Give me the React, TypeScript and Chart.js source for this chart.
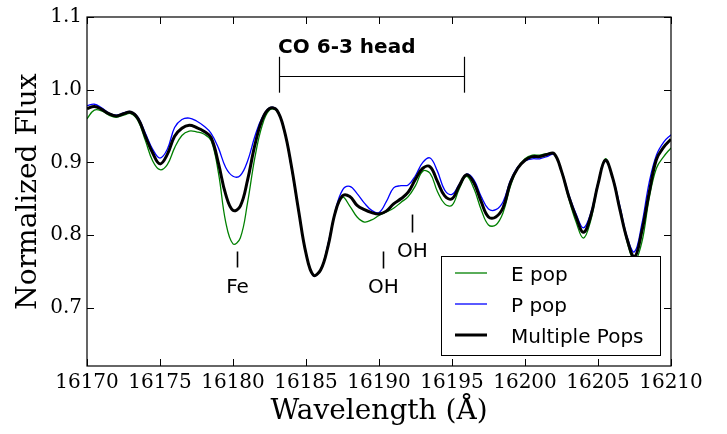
import React, { useEffect, useRef } from "react";
import { Chart, registerables } from "chart.js";

Chart.register(...registerables);

// Wavelength grid (Å)
const WAVELENGTH: number[] = [
  16170.0, 16170.5, 16171.0, 16171.5, 16172.0, 16172.5, 16173.0, 16173.5, 16174.0, 16174.5,
  16175.0, 16175.5, 16176.0, 16176.5, 16177.0, 16177.5, 16178.0, 16178.5, 16179.0, 16179.5,
  16180.0, 16180.5, 16181.0, 16181.5, 16182.0, 16182.5, 16183.0, 16183.5, 16184.0, 16184.5,
  16185.0, 16185.5, 16186.0, 16186.5, 16187.0, 16187.5, 16188.0, 16188.5, 16189.0, 16189.5,
  16190.0, 16190.5, 16191.0, 16191.5, 16192.0, 16192.5, 16193.0, 16193.5, 16194.0, 16194.5,
  16195.0, 16195.5, 16196.0, 16196.5, 16197.0, 16197.5, 16198.0, 16198.5, 16199.0, 16199.5,
  16200.0, 16200.5, 16201.0, 16201.5, 16202.0, 16202.5, 16203.0, 16203.5, 16204.0, 16204.5,
  16205.0, 16205.5, 16206.0, 16206.5, 16207.0, 16207.5, 16208.0, 16208.5, 16209.0, 16209.5,
  16210.0,
];

const E_POP: number[] = [
  0.960, 0.972, 0.971, 0.965, 0.962, 0.965, 0.967, 0.957, 0.930, 0.902,
  0.890, 0.897, 0.920, 0.937, 0.943, 0.942, 0.939, 0.930, 0.886, 0.818,
  0.788, 0.796, 0.845, 0.907, 0.951, 0.972, 0.971, 0.945, 0.893, 0.832,
  0.776, 0.745, 0.752, 0.786, 0.830, 0.852, 0.840, 0.825, 0.818, 0.821,
  0.827, 0.832, 0.837, 0.845, 0.853, 0.868, 0.888, 0.885, 0.860, 0.843,
  0.841, 0.864, 0.881, 0.864, 0.835, 0.814, 0.814, 0.831, 0.867, 0.892,
  0.905, 0.910, 0.910, 0.912, 0.911, 0.887, 0.850, 0.818, 0.796, 0.820,
  0.870, 0.905, 0.878, 0.837, 0.790, 0.765, 0.790, 0.850, 0.892, 0.908,
  0.920,
];

const P_POP: number[] = [
  0.978, 0.980, 0.975, 0.968, 0.965, 0.968, 0.970, 0.962, 0.940, 0.918,
  0.906, 0.918, 0.948, 0.959, 0.961, 0.957, 0.950, 0.940, 0.920, 0.893,
  0.881, 0.882, 0.902, 0.936, 0.962, 0.975, 0.973, 0.946, 0.893, 0.832,
  0.775, 0.744, 0.752, 0.787, 0.833, 0.862, 0.867, 0.857, 0.844, 0.834,
  0.831, 0.846, 0.865, 0.868, 0.869, 0.882, 0.900, 0.906, 0.888, 0.862,
  0.856, 0.870, 0.884, 0.876, 0.853, 0.836, 0.835, 0.846, 0.875, 0.894,
  0.902, 0.905, 0.905, 0.908, 0.911, 0.889, 0.856, 0.829, 0.810, 0.830,
  0.872, 0.902, 0.880, 0.840, 0.797, 0.777, 0.815, 0.872, 0.910, 0.928,
  0.938,
];

const MULTI_POPS: number[] = [
  0.974, 0.977, 0.973, 0.967, 0.964, 0.967, 0.969, 0.960, 0.936, 0.913,
  0.898, 0.911, 0.936, 0.947, 0.951, 0.948, 0.943, 0.934, 0.899, 0.856,
  0.834, 0.840, 0.876, 0.924, 0.959, 0.974, 0.972, 0.945, 0.895, 0.833,
  0.775, 0.745, 0.752, 0.784, 0.831, 0.854, 0.853, 0.841, 0.835, 0.831,
  0.829, 0.833, 0.843, 0.850, 0.859, 0.877, 0.892, 0.894, 0.874, 0.854,
  0.850, 0.868, 0.883, 0.872, 0.846, 0.825, 0.825, 0.838, 0.872, 0.892,
  0.903, 0.908, 0.908, 0.911, 0.912, 0.888, 0.853, 0.825, 0.804, 0.826,
  0.870, 0.903, 0.879, 0.835, 0.794, 0.770, 0.805, 0.858, 0.904, 0.921,
  0.932,
];

const SERIES_LABELS = ["E pop", "P pop", "Multiple Pops"];
const SERIES_COLORS = ["#008000", "#0000ff", "#000000"];
const SERIES_WIDTHS = [1.3, 1.3, 3];

const X_TICKS: number[] = [16170, 16175, 16180, 16185, 16190, 16195, 16200, 16205, 16210];
const Y_TICKS: number[] = [0.7, 0.8, 0.9, 1.0, 1.1];
const X_MIN = 16170;
const X_MAX = 16210;
const Y_MIN = 0.62;
const Y_MAX = 1.1;

const X_TITLE = "Wavelength (Å)";
const Y_TITLE = "Normalized Flux";

// Line-identification marks: [label, wavelength, tickTop, tickBottom, textBaseline]
const LINE_MARKS: [string, number, number, number, number][] = [
  ["Fe", 16180.28, 0.7775, 0.7555, 0.7198],
  ["OH", 16190.29, 0.7775, 0.7541, 0.7198],
  ["OH", 16192.28, 0.8283, 0.8036, 0.7706],
];

// CO band head bracket
const CO_LABEL = "CO 6-3 head";
const CO_START = 16183.16;
const CO_END = 16195.84;
const CO_BAR_Y = 1.0192;
const CO_TICK_TOP = 1.0453;
const CO_TICK_BOTTOM = 0.9959;
const CO_TEXT_X = 16183.09;
const CO_TEXT_Y = 1.0508;

const SERIF = '"DejaVu Serif", serif';
const SANS = '"DejaVu Sans", sans-serif';

const overlayPlugin = {
  id: "overlay",
  afterDatasetsDraw(chart: any) {
    const { ctx, chartArea, scales } = chart;
    const { left, right, top, bottom } = chartArea;
    const xs = scales.x;
    const ys = scales.y;
    ctx.save();
    ctx.strokeStyle = "#000";
    ctx.fillStyle = "#000";

    const seg = (x1: number, y1: number, x2: number, y2: number, w: number) => {
      ctx.lineWidth = w;
      ctx.beginPath();
      ctx.moveTo(x1, y1);
      ctx.lineTo(x2, y2);
      ctx.stroke();
    };

    // inward ticks on all four sides
    X_TICKS.forEach((v) => {
      const px = Math.round(xs.getPixelForValue(v)) + 0.5;
      seg(px, bottom, px, bottom - 7, 1);
      seg(px, top, px, top + 7, 1);
    });
    Y_TICKS.forEach((v) => {
      const py = Math.round(ys.getPixelForValue(v)) + 0.5;
      seg(left, py, left + 7, py, 1);
      seg(right, py, right - 7, py, 1);
    });

    // frame
    ctx.lineWidth = 1.2;
    ctx.strokeRect(left, top, right - left, bottom - top);

    // line marks
    ctx.font = `20px ${SANS}`;
    ctx.textAlign = "center";
    ctx.textBaseline = "alphabetic";
    LINE_MARKS.forEach(([label, wl, t1, t2, tb]) => {
      const px = Math.round(xs.getPixelForValue(wl)) + 0.5;
      seg(px, ys.getPixelForValue(t1), px, ys.getPixelForValue(t2), 1.6);
      ctx.fillText(label, px, ys.getPixelForValue(tb));
    });

    // CO bracket
    const cx1 = Math.round(xs.getPixelForValue(CO_START)) + 0.5;
    const cx2 = Math.round(xs.getPixelForValue(CO_END)) + 0.5;
    const cy = Math.round(ys.getPixelForValue(CO_BAR_Y)) + 0.5;
    seg(cx1, cy, cx2, cy, 1.2);
    seg(cx1, ys.getPixelForValue(CO_TICK_TOP), cx1, ys.getPixelForValue(CO_TICK_BOTTOM), 1.2);
    seg(cx2, ys.getPixelForValue(CO_TICK_TOP), cx2, ys.getPixelForValue(CO_TICK_BOTTOM), 1.2);
    ctx.font = `bold 20px ${SANS}`;
    ctx.textAlign = "left";
    ctx.fillText(CO_LABEL, xs.getPixelForValue(CO_TEXT_X), ys.getPixelForValue(CO_TEXT_Y));

    // legend (matplotlib style box, lower right)
    const lx = 441.5, ly = 256.5, lw = 219, lh = 99;
    ctx.fillStyle = "#fff";
    ctx.fillRect(lx, ly, lw, lh);
    ctx.lineWidth = 1;
    ctx.strokeStyle = "#000";
    ctx.strokeRect(lx, ly, lw, lh);
    ctx.font = `20px ${SANS}`;
    ctx.textAlign = "left";
    ctx.textBaseline = "alphabetic";
    SERIES_LABELS.forEach((lab, i) => {
      const yy = 273 + i * 31;
      ctx.strokeStyle = SERIES_COLORS[i];
      seg(455, yy, 487, yy, SERIES_WIDTHS[i]);
      ctx.fillStyle = "#000";
      ctx.fillText(lab, 511, yy + 7.5);
    });

    ctx.restore();
  },
  afterDraw(chart: any) {
    const { ctx, chartArea } = chart;
    ctx.save();
    ctx.fillStyle = "#000";
    ctx.font = `28px ${SERIF}`;
    ctx.textAlign = "center";
    ctx.textBaseline = "middle";
    ctx.fillText(X_TITLE, (chartArea.left + chartArea.right) / 2, 412);
    ctx.translate(29, (chartArea.top + chartArea.bottom) / 2);
    ctx.rotate(-Math.PI / 2);
    ctx.fillText(Y_TITLE, 0, 0);
    ctx.restore();
  },
};

export default function App() {
  const canvasRef = useRef<HTMLCanvasElement | null>(null);

  useEffect(() => {
    document.body.style.margin = "0";
    const canvas = canvasRef.current;
    if (!canvas) return;
    const series = [E_POP, P_POP, MULTI_POPS];
    const chart = new Chart(canvas, {
      type: "line",
      data: {
        datasets: series.map((vals, i) => ({
          label: SERIES_LABELS[i],
          data: WAVELENGTH.map((x, j) => ({ x, y: vals[j] })),
          borderColor: SERIES_COLORS[i],
          borderWidth: SERIES_WIDTHS[i],
          pointRadius: 0,
          fill: false,
          tension: 0.4,
          order: 3 - i,
        })),
      },
      options: {
        animation: false,
        responsive: false,
        devicePixelRatio: 1,
        layout: { padding: { left: 0, top: 16, right: 56, bottom: 0 } },
        plugins: {
          legend: { display: false },
          tooltip: { enabled: false },
        },
        scales: {
          x: {
            type: "linear",
            min: X_MIN,
            max: X_MAX,
            grid: { display: false, drawTicks: false },
            border: { display: false },
            afterBuildTicks: (scale: any) => {
              scale.ticks = X_TICKS.map((value) => ({ value }));
            },
            afterFit: (scale: any) => {
              scale.height = 68;
            },
            ticks: {
              padding: 5,
              color: "#000",
              font: { family: SERIF, size: 20 },
              maxRotation: 0,
              autoSkip: false,
              callback: (v: any) => String(v),
            },
          },
          y: {
            type: "linear",
            min: Y_MIN,
            max: Y_MAX,
            grid: { display: false, drawTicks: false },
            border: { display: false },
            afterBuildTicks: (scale: any) => {
              scale.ticks = Y_TICKS.map((value) => ({ value }));
            },
            afterFit: (scale: any) => {
              scale.width = 87;
            },
            ticks: {
              padding: 5,
              color: "#000",
              font: { family: SERIF, size: 20 },
              callback: (v: any) => Number(v).toFixed(1),
            },
          },
        },
      },
      plugins: [overlayPlugin],
    } as any);
    return () => chart.destroy();
  }, []);

  return (
    <div style={{ position: "relative", width: 727, height: 434 }}>
      <canvas ref={canvasRef} width={727} height={434} />
    </div>
  );
}
